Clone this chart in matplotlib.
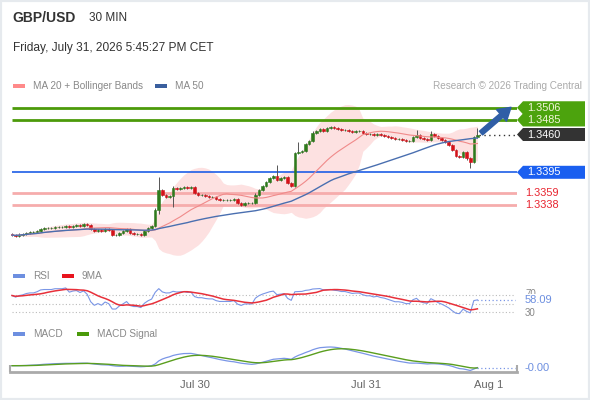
import matplotlib
matplotlib.use('Agg')
import matplotlib.pyplot as plt
from matplotlib.patches import Polygon, Rectangle
import numpy as np
import pandas as pd

plt.rcParams['font.family'] = ['Liberation Sans', 'DejaVu Sans']

# ---- data (30 min candles, GBP/USD) ----
first_open = 1.3289
closes = [
    1.3287, 1.3286, 1.3288, 1.3289, 1.3291, 1.3292, 1.3292, 1.3294, 1.3298, 1.3299,
    1.3299, 1.3299, 1.3301, 1.3301, 1.3301, 1.3303, 1.3301, 1.3303, 1.3304, 1.3303,
    1.3306, 1.3304, 1.3298, 1.3294, 1.3296, 1.3294, 1.3298, 1.3296, 1.3287, 1.3287,
    1.3291, 1.3294, 1.3298, 1.3291, 1.3289, 1.3289, 1.3287, 1.3294, 1.3299, 1.3303,
    1.3330, 1.3365, 1.3356, 1.3353, 1.3354, 1.3368, 1.3366, 1.3368, 1.3370, 1.3368,
    1.3370, 1.3359, 1.3356, 1.3356, 1.3354, 1.3353, 1.3353, 1.3349, 1.3347, 1.3347,
    1.3347, 1.3347, 1.3349, 1.3342, 1.3339, 1.3342, 1.3342, 1.3342, 1.3356, 1.3365,
    1.3372, 1.3378, 1.3385, 1.3389, 1.3382, 1.3385, 1.3387, 1.3377, 1.3372, 1.3428,
    1.3430, 1.3432, 1.3444, 1.3449, 1.3463, 1.3466, 1.3470, 1.3466, 1.3471, 1.3473,
    1.3471, 1.3470, 1.3468, 1.3468, 1.3466, 1.3464, 1.3466, 1.3466, 1.3463, 1.3461,
    1.3461, 1.3459, 1.3461, 1.3459, 1.3458, 1.3456, 1.3454, 1.3452, 1.3452, 1.3451,
    1.3449, 1.3449, 1.3456, 1.3459, 1.3454, 1.3452, 1.3451, 1.3461, 1.3458, 1.3454,
    1.3451, 1.3447, 1.3442, 1.3433, 1.3423, 1.3421, 1.3430, 1.3420, 1.3413, 1.3456,
    1.3460,
]
# wick sizes in pips above / below the body
upper_wick = [
    2, 2, 2, 2, 2, 2, 2, 2, 2, 2,
    2, 2, 2, 2, 2, 2, 2, 2, 2, 2,
    2, 2, 2, 2, 2, 2, 2, 2, 2, 2,
    2, 2, 2, 2, 2, 2, 2, 2, 2, 2,
    3, 22, 2, 2, 2, 4, 2, 2, 2, 2,
    2, 2, 2, 2, 2, 2, 2, 2, 2, 2,
    2, 2, 2, 2, 2, 2, 2, 2, 3, 2,
    2, 2, 2, 2, 18, 2, 2, 2, 2, 2,
    17, 2, 2, 2, 3, 2, 2, 2, 2, 2,
    2, 2, 2, 2, 2, 2, 2, 2, 2, 2,
    2, 2, 2, 2, 2, 2, 2, 2, 2, 2,
    2, 2, 2, 9, 2, 2, 2, 5, 2, 2,
    2, 2, 2, 2, 2, 2, 2, 2, 2, 2,
    11,
]
lower_wick = [
    2, 2, 2, 2, 2, 2, 2, 2, 2, 2,
    2, 2, 2, 2, 2, 2, 2, 2, 2, 2,
    2, 2, 2, 2, 2, 2, 2, 2, 2, 2,
    2, 2, 2, 2, 2, 2, 2, 2, 2, 2,
    2, 6, 2, 2, 2, 19, 2, 2, 2, 2,
    2, 2, 2, 2, 2, 2, 2, 2, 2, 2,
    2, 2, 2, 2, 2, 2, 2, 2, 2, 2,
    2, 2, 2, 2, 2, 2, 2, 2, 2, 2,
    2, 2, 2, 2, 2, 2, 2, 2, 2, 2,
    2, 2, 2, 2, 2, 2, 2, 2, 2, 2,
    2, 2, 2, 2, 2, 2, 2, 2, 2, 2,
    2, 2, 2, 2, 2, 2, 2, 2, 2, 2,
    2, 2, 2, 2, 2, 2, 2, 4, 11, 2,
    2,
]
# average gain / loss carried in from the candles before the window
rsi_seed_gain = 0.00010
rsi_seed_loss = 0.00003
resistances = [1.3506, 1.3485]
pivot = 1.3395
supports = [1.3359, 1.3338]
last_price = 1.3460
rsi_label = '58.09'
macd_label = '-0.00'
tick_pos = [51, 99, 133]
tick_labels = ['Jul 30', 'Jul 31', 'Aug 1']

# ---- candles + indicators ----
close = pd.Series(closes)
opens = pd.Series([first_open] + closes[:-1])
highs = np.maximum(opens, close) + np.array(upper_wick) * 0.0001
lows = np.minimum(opens, close) - np.array(lower_wick) * 0.0001
idx = np.arange(len(close))

ma20 = close.rolling(20, min_periods=1).mean()
sd20 = close.rolling(20, min_periods=1).std(ddof=0)
bb_up = ma20 + 2 * sd20
bb_dn = ma20 - 2 * sd20
ma50 = close.rolling(50, min_periods=1).mean()

# Wilder RSI(14)
delta = (close - opens).values
avg_g, avg_l = rsi_seed_gain, rsi_seed_loss
rsi_vals = []
for d in delta:
    avg_g = (avg_g * 13 + max(d, 0)) / 14
    avg_l = (avg_l * 13 + max(-d, 0)) / 14
    rsi_vals.append(100 - 100 / (1 + avg_g / avg_l))
rsi = pd.Series(rsi_vals)
rsi_ma = rsi.rolling(9, min_periods=1).mean()

macd = close.ewm(span=12, adjust=False).mean() - close.ewm(span=26, adjust=False).mean()
signal = macd.ewm(span=9, adjust=False).mean()

# ---- layout in pixels ----
W, H = 590, 400
fx = lambda px: px / W
fy = lambda py: 1 - py / H
step = 3.58
left_px, right_px = 10, 517
xlim = ((left_px - 12) / step, (right_px - 12) / step)
xr = lambda px: (px - 12) / step

fig = plt.figure(figsize=(5.9, 4.0), dpi=100)
fig.patch.set_facecolor('white')
fig.patches.append(Rectangle((0, 0), 1, 1, transform=fig.transFigure,
                             fill=False, edgecolor='#e6eaee', lw=3))


def make_ax(top, bottom):
    a = fig.add_axes([fx(left_px), fy(bottom), (right_px - left_px) / W, (bottom - top) / H])
    a.set_xlim(*xlim)
    a.set_facecolor('none')
    for s in a.spines.values():
        s.set_visible(False)
    a.set_xticks([])
    a.set_yticks([])
    return a


# ---- header ----
fig.text(fx(12), fy(18), 'GBP/USD', fontsize=10, fontweight='bold', color='#333333', va='center')
fig.text(fx(89), fy(18), '30 MIN', fontsize=8.5, color='#333333', va='center')
fig.text(fx(13), fy(48), 'Friday, July 31, 2026 5:45:27 PM CET', fontsize=8.6, color='#333333', va='center')


def legend_item(x, y, color, label):
    fig.patches.append(Rectangle((fx(x), fy(y + 2)), 12 / W, 4 / H, transform=fig.transFigure,
                                 facecolor=color, edgecolor='none'))
    fig.text(fx(x + 20), fy(y), label, fontsize=7.2, color='#888888', va='center')


legend_item(13, 86, '#ff8a8a', 'MA 20 + Bollinger Bands')
legend_item(155, 86, '#3a5f9e', 'MA 50')
fig.text(fx(582), fy(86), 'Research \u00a9 2026 Trading Central', fontsize=7.2,
         color='#aaaaaa', va='center', ha='right')

# ---- price panel ----
ax = make_ax(97, 258)
ax.set_ylim(1.32476, 1.35245)
ppx = (1.35245 - 1.32476) / (258 - 97)

ax.fill_between(idx, bb_dn, bb_up, color='#fde1e1', lw=0, zorder=1)
ax.hlines(resistances, 0, xlim[1], color='#4c9a0a', lw=2, zorder=2)
ax.hlines(pivot, 0, xlim[1], color='#1e5ee6', lw=1.2, zorder=2)
ax.hlines(supports, 0, xlim[1], color='#f6acac', lw=2, zorder=2)
ax.hlines(last_price, idx[-1] + 0.5, xlim[1], color='#333333', lw=1, linestyles=(0, (1, 2.5)), zorder=2)

up = close >= opens
colors = np.where(up, '#2e7a1c', '#d41219')
ax.vlines(idx, lows, highs, color='#555555', lw=0.7, zorder=3)
ax.bar(idx, close - opens, bottom=opens, width=0.72, color=colors, edgecolor=colors, lw=0.4, zorder=4)
ax.plot(idx, ma20, color='#f08a8a', lw=0.8, zorder=5)
ax.plot(idx, ma50, color='#4a6fb0', lw=1.0, zorder=5)

ax.annotate('', xy=(xr(511), 1.35068), xytext=(xr(481), 1.34625),
            arrowprops=dict(facecolor='#2f5ea6', edgecolor='#2f5ea6', width=3.5,
                            headwidth=11, headlength=9, shrink=0), zorder=6)


def price_tag(price, text, fc, tc):
    hh = 6.5 * ppx
    tip, body, right = xlim[1], xr(523), xr(585)
    poly = Polygon([(tip, price), (body, price + hh), (right, price + hh),
                    (right, price - hh), (body, price - hh)],
                   closed=True, facecolor=fc, edgecolor='none', clip_on=False, zorder=7)
    ax.add_patch(poly)
    ax.text(xr(527), price, text, color=tc, fontsize=7.8, va='center', ha='left', clip_on=False, zorder=8)


for r in resistances:
    price_tag(r, f'{r:.4f}', '#4ca30d', '#f3f6dc')
price_tag(last_price, f'{last_price:.4f}', '#333333', 'white')
price_tag(pivot, f'{pivot:.4f}', '#1a5ff0', 'white')
for s in supports:
    ax.text(xr(525), s, f'{s:.4f}', color='#e8232e', fontsize=7.8, va='center', ha='left', clip_on=False)

# ---- RSI panel ----
legend_item(13, 276, '#6d8fe0', 'RSI')
legend_item(62, 276, '#e8141e', '9MA')
rax = make_ax(286, 318)
rax.set_ylim(16.8, 90.8)
rax.hlines([70, 50, 30], 0, xlim[1] - 0.5, color='#bbbbbb', lw=0.8, linestyles=(0, (1, 2)))
rax.plot(idx, rsi, color='#7a96e6', lw=0.8)
rax.plot(idx, rsi_ma, color='#e8303a', lw=1.1)
rax.hlines(rsi.iloc[-1], idx[-1], xlim[1] - 0.5, color='#7a96e6', lw=0.9, linestyles=(0, (1, 2)))
rax.text(xr(525), 72, '70', fontsize=7, color='#888888', va='center', clip_on=False)
rax.text(xr(525), 28, '30', fontsize=7, color='#888888', va='center', clip_on=False)
rax.text(xr(525), rsi.iloc[-1], rsi_label, fontsize=8, color='#6d8fe0', va='center', clip_on=False,
         bbox=dict(facecolor='white', edgecolor='none', pad=0.3))

# ---- MACD panel ----
legend_item(13, 334, '#6d8fe0', 'MACD')
legend_item(77, 334, '#4a9a0a', 'MACD Signal')
max_ax = make_ax(340, 372)
m = max(macd.max(), signal.max())
max_ax.set_ylim(-0.337 * m, 1.374 * m)
max_ax.plot(idx, macd, color='#7a96e6', lw=0.9)
max_ax.plot(idx, signal, color='#5a9e1e', lw=1.0)
max_ax.hlines(macd.iloc[-1], idx[-1], xlim[1] - 0.5, color='#7a96e6', lw=0.9, linestyles=(0, (1, 2)))
max_ax.text(xr(525), macd.iloc[-1], macd_label, fontsize=8, color='#6d8fe0', va='center', clip_on=False)

max_ax.spines['bottom'].set_visible(True)
max_ax.spines['bottom'].set_color('#aaaaaa')
max_ax.spines['bottom'].set_linewidth(2)
max_ax.set_xticks(tick_pos)
max_ax.set_xticklabels(tick_labels)
max_ax.tick_params(axis='x', length=0, pad=6, labelsize=8, labelcolor='#666666')
max_ax.set_xticks(list(xlim), minor=True)
max_ax.tick_params(axis='x', which='minor', length=5, width=1.5, direction='in', color='#aaaaaa')

fig.savefig('out.png', dpi=100)
